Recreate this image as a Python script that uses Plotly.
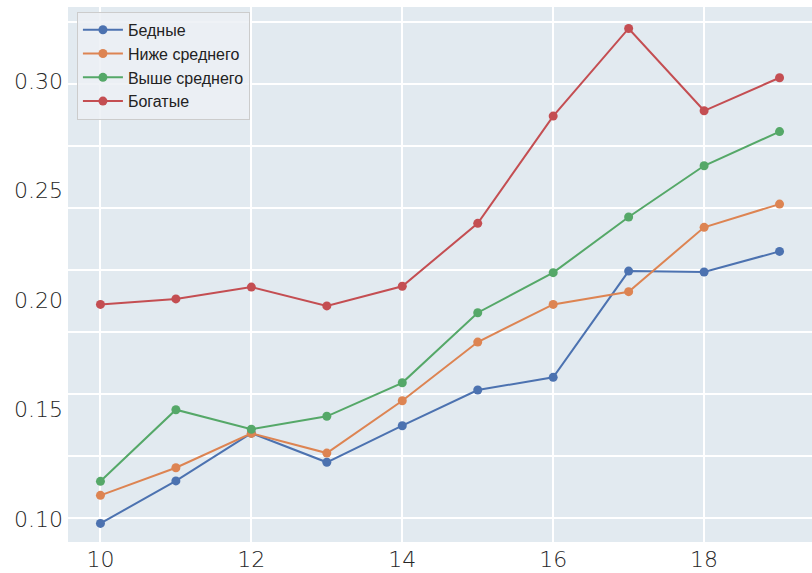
import plotly.graph_objects as go

ages = [10, 11, 12, 13, 14, 15, 16, 17, 18, 19]
poor = [0.098, 0.1174, 0.1392, 0.1259, 0.1426, 0.1589, 0.1647, 0.2132, 0.2128, 0.2222]
below_mid = [0.1108, 0.1234, 0.1391, 0.1301, 0.1540, 0.1808, 0.1980, 0.2038, 0.2332, 0.2438]
above_mid = [0.1172, 0.1499, 0.1410, 0.1469, 0.1622, 0.1942, 0.2125, 0.2379, 0.2613, 0.2769]
rich = [0.1980, 0.2005, 0.2059, 0.1973, 0.2063, 0.2350, 0.2840, 0.3240, 0.2864, 0.3015]

names = ["Бедные", "Ниже среднего", "Выше среднего", "Богатые"]
series = [poor, below_mid, above_mid, rich]
colors = ["#4C72B0", "#DD8452", "#55A868", "#C44E52"]

x_ticks = [10, 12, 14, 16, 18]
y_ticks = [0.10, 0.15, 0.20, 0.25, 0.30]
y_tick_text = ["0.10", "0.15", "0.20", "0.25", "0.30"]

fig = go.Figure()
for name, vals, col in zip(names, series, colors):
    fig.add_trace(go.Scatter(
        x=ages, y=vals, name=name, mode="lines+markers",
        line=dict(color=col, width=2),
        marker=dict(color=col, size=9),
    ))
fig.add_trace(go.Scatter(x=[], y=[], yaxis="y2", showlegend=False, hoverinfo="skip"))

yr = [0.0895, 0.3338]
tickfont = dict(family="DejaVu Sans", size=22, color="#262626", weight=200)
fig.update_layout(
    width=812, height=573,
    margin=dict(l=68, r=0, t=7, b=31),
    paper_bgcolor="white",
    plot_bgcolor="#E2EAF0",
    xaxis=dict(range=[9.57, 19.43], tickvals=x_ticks, showgrid=True,
               gridcolor="white", gridwidth=1.5, zeroline=False, automargin=False,
               tickfont=tickfont, ticks="", showline=False, ticklabelstandoff=2),
    yaxis=dict(range=yr, tickvals=y_ticks, ticktext=y_tick_text, showgrid=False,
               zeroline=False, tickfont=tickfont, ticks="", showline=False,
               automargin=False, ticklabelstandoff=4),
    yaxis2=dict(range=yr, overlaying="y", showgrid=True, gridcolor="white",
                gridwidth=1.5, tick0=0.1005, dtick=0.0283, showticklabels=False,
                zeroline=False, showline=False, automargin=False),
    legend=dict(x=0.012, y=0.991, xanchor="left", yanchor="top",
                bgcolor="rgba(236,240,244,0.85)", bordercolor="#CCCCCC", borderwidth=1,
                font=dict(family="Liberation Sans", size=16, color="#222222"),
                tracegroupgap=0, itemwidth=40),
    showlegend=True,
)
fig.write_html("out.html", config={"displayModeBar": False},
               post_script="document.body.style.margin='0';document.body.style.overflow='hidden';")
